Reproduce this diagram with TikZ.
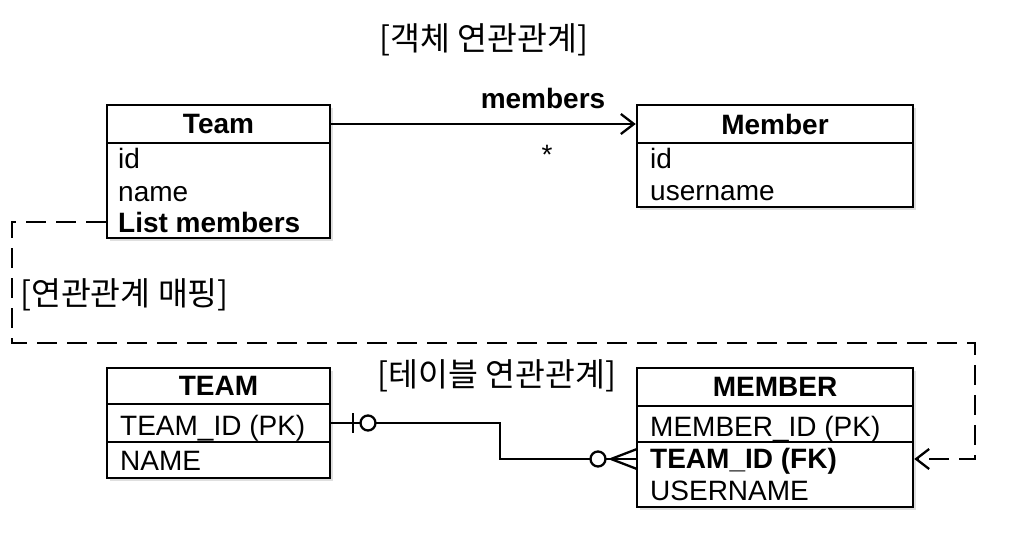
\documentclass[tikz,border=0pt]{standalone}
\usepackage{fontspec}
\setmainfont{Liberation Sans}
\newfontfamily\krfont{Noto Sans CJK KR}
\usetikzlibrary{arrows.meta,shadows}
\newcommand\fsreg{\fontsize{28}{32}\selectfont}
\newcommand\fsbold{\fontsize{28}{32}\selectfont\bfseries}
\newcommand\fskr{\krfont\fontsize{32.5}{36}\selectfont}
\begin{document}
\begin{tikzpicture}[x=1pt,y=-1pt,
  frame/.style={draw, line width=2.5pt, fill=white, inner sep=0pt,
    drop shadow={shadow xshift=3pt,shadow yshift=-3pt,opacity=0.25}},
  cell/.style={draw, line width=2.5pt, fill=white, inner sep=0pt, font=\fsbold},
  txt/.style={inner sep=0pt, anchor=base west, font=\fsreg},
  btxt/.style={inner sep=0pt, anchor=base west, font=\fsbold},
  krtxt/.style={inner sep=0pt, font=\fskr},
  conn/.style={line width=2.3pt},
  dsh/.style={line width=2.3pt, dash pattern=on 20pt off 10pt},
  tip/.style={-{Straight Barb[length=13pt,width=20pt,line width=2.3pt]}}
]
\fill[white] (0,0) rectangle (1012,538);
\useasboundingbox (0,0) rectangle (1012,538);

% titles
\node[krtxt] (t1) at (484,40) {[객체 연관관계]};
\node[krtxt, anchor=west] (t2) at (20,295) {[연관관계 매핑]};
\node[krtxt] (t3) at (497,376) {[테이블 연관관계]};

% Team (object)
\node[frame, minimum width=223pt, minimum height=133pt] (teamf) at (218.5,171.5) {};
\node[cell, minimum width=223pt, minimum height=38pt] (teamh) at (218.5,124) {Team};
\node[txt] (tid) at (118,168) {id};
\node[txt] (tname) at (118,201) {name};
\node[btxt] (tlm) at (118,232) {List members};

% Member (object)
\node[frame, minimum width=276pt, minimum height=102pt] (memf) at (775,156) {};
\node[cell, minimum width=276pt, minimum height=38pt] (memh) at (775,124) {Member};
\node[txt] (mid) at (650,168) {id};
\node[txt] (muser) at (650,200) {username};

% object association
\draw[conn, tip] (teamh.east) -- (memh.west);
\node[inner sep=0pt, anchor=base, font=\fsbold] (lmem) at (543,108) {members};
\node[inner sep=0pt, font=\fsreg] (lstar) at (547,155) {*};

% TEAM (table)
\node[frame, minimum width=223pt, minimum height=110pt] (tabtf) at (218.5,423) {};
\node[cell, minimum width=223pt, minimum height=36pt] (tabth) at (218.5,386) {TEAM};
\node[cell, minimum width=223pt, minimum height=38pt] (tabtr1) at (218.5,423) {};
\node[cell, minimum width=223pt, minimum height=36pt] (tabtr2) at (218.5,460) {};
\node[txt] (ttid) at (120,435) {TEAM\_ID (PK)};
\node[txt] (ttname) at (120,470) {NAME};

% MEMBER (table)
\node[frame, minimum width=276pt, minimum height=139pt] (tabmf) at (775,437.5) {};
\node[cell, minimum width=276pt, minimum height=38pt] (tabmh) at (775,387) {MEMBER};
\node[cell, minimum width=276pt, minimum height=36pt] (tabmr1) at (775,424) {};
\node[cell, minimum width=276pt, minimum height=65pt] (tabmr2) at (775,474.5) {};
\node[txt] (mmid) at (650,436) {MEMBER\_ID (PK)};
\node[btxt] (mtid) at (650,468) {TEAM\_ID (FK)};
\node[txt] (muname) at (650,500) {USERNAME};

% mapping (dashed)
\coordinate (dl) at (12,343);
\coordinate (dr) at (975,343);
\coordinate (ar) at (975,459);
\draw[dsh, tip] (teamf.west |- tlm) -| (dl) -- (dr) -- (ar) -- (tabmr2.east |- ar);

% ER relation
\coordinate (er) at (500,459);
\draw[conn] (tabtr1.east) -| (er) -- (tabmr2.west |- er);
\draw[conn] (353,413) -- (353,433);
\draw[conn, fill=white] (368,423) circle[radius=7.5pt];
\draw[conn] (611,459) -- (637,449) (611,459) -- (637,469);
\draw[conn, fill=white] (598,459) circle[radius=7.5pt];
\end{tikzpicture}
\end{document}
